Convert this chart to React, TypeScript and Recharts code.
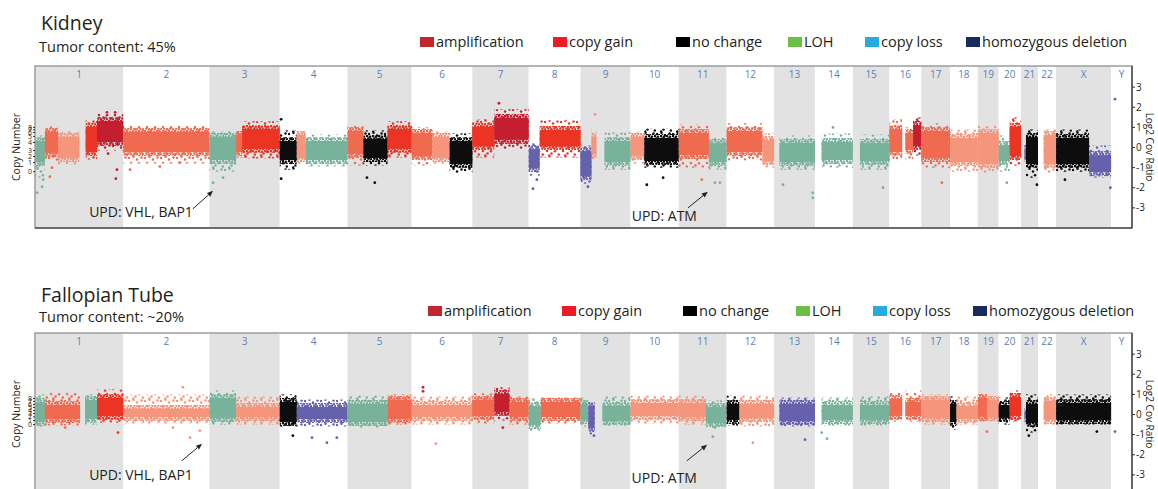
import React from "react";
import { ComposedChart, XAxis, YAxis, ReferenceArea, ReferenceLine, Scatter } from "recharts";

const FONT = "'Open Sans', 'Noto Sans', sans-serif";
const TEXT = "#231f20";

// chromosome sizes (hg19, Mb)
const chromNames = ["1", "2", "3", "4", "5", "6", "7", "8", "9", "10", "11", "12", "13", "14", "15", "16", "17", "18", "19", "20", "21", "22", "X", "Y"];
const chromLengths = [249, 243, 198, 191, 181, 171, 159, 146, 141, 136, 135, 134, 115, 107, 103, 90, 81, 78, 59, 63, 48, 51, 155, 59];

// colours of the point clouds
const stateNames = ["amp", "gain", "gain1", "gain2", "loh", "neutral", "loss"];
const stateColors = ["#c41f2e", "#ec3424", "#f06a50", "#f4957c", "#78b29a", "#0d0d0d", "#6561ad"];

const legendLabels = ["amplification", "copy gain", "no change", "LOH", "copy loss", "homozygous deletion"];
const legendColors = ["#c1272d", "#ed1c24", "#000000", "#6cbe45", "#27aae1", "#1b2a5e"];

const log2Ticks = [-3, -2, -1, 0, 1, 2, 3];
const cnTickLabels = [0, 1, 2, 3, 4, 5, 6, 7, 8];
const kidneyCnTicks = [-1.2, -0.75, -0.45, -0.15, 0.25, 0.55, 0.75, 0.88, 1.0];
const fallopianCnTicks = [-0.5, -0.3, -0.12, 0.05, 0.2, 0.35, 0.5, 0.65, 0.8];

type Seg = [string, number, number, string, number, number, number, number];
// chr, start Mb, end Mb, state, core low, core high, spread low, spread high (log2)
const kidneySegments: Seg[] = [
  ["1", 0, 28, "loh", -0.8, 0.4, -1.5, 0.6],
  ["1", 28, 65, "gain1", -0.35, 0.85, -0.7, 1.05],
  ["1", 65, 125, "gain2", -0.6, 0.6, -0.85, 0.8],
  ["1", 143, 175, "gain", -0.3, 1.1, -0.6, 1.35],
  ["1", 175, 249, "amp", 0.2, 1.4, -0.15, 1.7],
  ["2", 0, 243, "gain1", -0.3, 0.85, -0.8, 1.1],
  ["3", 0, 75, "loh", -0.7, 0.6, -1.2, 0.8],
  ["3", 75, 92, "gain1", -0.3, 0.7, -0.5, 0.8],
  ["3", 92, 198, "gain", -0.15, 1.0, -0.55, 1.3],
  ["4", 0, 48, "neutral", -0.7, 0.4, -1.1, 0.85],
  ["4", 48, 73, "gain2", -0.6, 0.7, -0.8, 0.8],
  ["4", 73, 191, "loh", -0.7, 0.4, -0.95, 0.65],
  ["5", 0, 45, "gain1", -0.4, 0.9, -0.9, 1.1],
  ["5", 45, 113, "neutral", -0.6, 0.5, -0.9, 0.85],
  ["5", 113, 181, "gain", -0.15, 1.0, -0.5, 1.3],
  ["6", 0, 59, "gain1", -0.5, 0.8, -0.9, 1.0],
  ["6", 59, 107, "gain2", -0.6, 0.6, -0.8, 0.8],
  ["6", 107, 171, "neutral", -0.9, 0.4, -1.3, 0.7],
  ["7", 0, 62, "gain", 0, 1.1, -0.5, 1.4],
  ["7", 62, 159, "amp", 0.3, 1.55, -0.1, 1.9],
  ["8", 0, 31, "loss", -1.1, 0, -1.4, 0.2],
  ["8", 31, 146, "gain", 0, 0.95, -0.5, 1.35],
  ["9", 0, 31, "loss", -1.5, -0.1, -1.8, 0.1],
  ["9", 31, 45, "gain2", -0.4, 0.6, -0.6, 0.9],
  ["9", 68, 141, "loh", -0.8, 0.4, -1.1, 0.75],
  ["10", 0, 39, "gain2", -0.5, 0.6, -0.8, 0.8],
  ["10", 39, 136, "neutral", -0.75, 0.55, -1.0, 0.95],
  ["11", 0, 85, "gain1", -0.45, 0.8, -1.0, 1.15],
  ["11", 85, 135, "loh", -0.8, 0.3, -1.1, 0.5],
  ["12", 0, 101, "gain1", -0.3, 0.9, -0.65, 1.2],
  ["12", 101, 134, "gain2", -0.75, 0.45, -1.0, 0.7],
  ["13", 15, 115, "loh", -0.8, 0.3, -1.1, 0.6],
  ["14", 19, 107, "loh", -0.7, 0.35, -1.0, 0.7],
  ["15", 20, 103, "loh", -0.75, 0.3, -1.1, 0.65],
  ["16", 0, 36, "gain1", -0.3, 1.0, -0.7, 1.4],
  ["16", 45, 67, "gain1", -0.2, 0.8, -0.6, 1.0],
  ["16", 67, 90, "amp", 0, 1.2, -0.4, 1.5],
  ["17", 0, 81, "gain1", -0.6, 0.9, -1.0, 1.2],
  ["18", 0, 78, "gain2", -0.8, 0.55, -1.2, 0.9],
  ["19", 0, 59, "gain2", -0.9, 0.8, -1.3, 1.1],
  ["20", 0, 31, "loh", -0.75, 0.2, -1.2, 0.6],
  ["20", 31, 63, "gain", -0.5, 1.1, -0.9, 1.5],
  ["21", 10, 14, "loss", -0.6, 0, -0.8, 0.2],
  ["21", 14, 48, "neutral", -0.9, 0.6, -1.5, 0.9],
  ["22", 16, 51, "gain2", -0.9, 0.7, -1.3, 0.9],
  ["X", 0, 93, "neutral", -0.9, 0.55, -1.2, 0.9],
  ["X", 93, 155, "loss", -1.3, -0.3, -1.5, 0.1],
];

const fallopianSegments: Seg[] = [
  ["1", 0, 28, "loh", -0.45, 0.7, -0.6, 1.0],
  ["1", 28, 127, "gain1", -0.3, 0.55, -0.55, 1.1],
  ["1", 141, 175, "loh", -0.3, 0.8, -0.5, 1.0],
  ["1", 175, 249, "gain", -0.15, 0.9, -0.4, 1.25],
  ["2", 0, 243, "gain2", -0.2, 0.35, -0.45, 1.0],
  ["3", 0, 75, "loh", -0.25, 0.9, -0.5, 1.2],
  ["3", 75, 198, "gain2", -0.2, 0.45, -0.5, 0.9],
  ["4", 0, 48, "neutral", -0.45, 0.7, -0.6, 1.0],
  ["4", 48, 191, "loss", -0.3, 0.45, -0.6, 0.75],
  ["5", 0, 113, "loh", -0.45, 0.6, -0.7, 0.95],
  ["5", 113, 181, "gain1", -0.3, 0.8, -0.5, 1.0],
  ["6", 0, 171, "gain2", -0.2, 0.55, -0.5, 0.9],
  ["7", 0, 62, "gain1", -0.15, 0.8, -0.45, 1.05],
  ["7", 62, 105, "amp", 0.05, 1.1, -0.3, 1.35],
  ["7", 105, 159, "gain1", -0.2, 0.7, -0.5, 0.9],
  ["8", 0, 34, "loh", -0.6, 0.5, -0.8, 0.8],
  ["8", 34, 146, "gain1", -0.2, 0.7, -0.45, 0.85],
  ["9", 0, 22, "loh", -0.35, 0.6, -0.6, 0.85],
  ["9", 22, 40, "loss", -0.75, 0.5, -1.0, 0.6],
  ["9", 62, 141, "loh", -0.4, 0.5, -0.55, 0.9],
  ["10", 0, 136, "gain2", -0.15, 0.65, -0.45, 0.95],
  ["11", 0, 77, "gain2", -0.2, 0.65, -0.5, 0.95],
  ["11", 77, 133, "loh", -0.5, 0.45, -0.7, 0.7],
  ["12", 0, 36, "neutral", -0.35, 0.6, -0.55, 0.95],
  ["12", 36, 134, "gain2", -0.25, 0.6, -0.6, 0.95],
  ["13", 15, 115, "loss", -0.4, 0.6, -0.6, 0.85],
  ["14", 19, 107, "loh", -0.35, 0.55, -0.55, 0.85],
  ["15", 20, 103, "loh", -0.35, 0.55, -0.55, 0.9],
  ["16", 0, 36, "gain1", -0.15, 0.85, -0.35, 1.15],
  ["16", 45, 90, "gain1", -0.15, 0.7, -0.35, 1.2],
  ["17", 0, 81, "gain2", -0.25, 0.8, -0.5, 1.0],
  ["18", 0, 18, "neutral", -0.45, 0.6, -0.75, 0.9],
  ["18", 18, 78, "gain2", -0.3, 0.5, -0.5, 0.9],
  ["19", 0, 26, "gain1", -0.2, 0.9, -0.35, 1.0],
  ["19", 26, 59, "gain2", -0.2, 0.8, -0.35, 0.95],
  ["20", 0, 31, "neutral", -0.25, 0.55, -0.5, 0.85],
  ["20", 31, 63, "gain", -0.15, 0.95, -0.35, 1.2],
  ["21", 10, 14, "loss", -0.3, 0.2, -0.45, 0.3],
  ["21", 14, 48, "neutral", -0.5, 0.6, -0.9, 1.0],
  ["22", 16, 51, "gain2", -0.35, 0.75, -0.5, 1.0],
  ["X", 0, 155, "neutral", -0.35, 0.65, -0.5, 1.0],
];

type Pt = [string, number, number, string]; // chr, Mb, log2, state
const kidneyOutliers: Pt[] = [
  ["1", 6, -2.25, "loh"], ["1", 20, -1.95, "loh"], ["1", 23, -1.6, "loh"],
  ["1", 42, -1.45, "gain1"], ["1", 48, -1.0, "gain1"],
  ["1", 228, -1.55, "amp"], ["1", 231, -1.1, "amp"], ["1", 206, -0.3, "amp"], ["1", 203, 1.75, "amp"], ["1", 226, 1.75, "amp"],
  ["2", 19, -1.1, "gain1"], ["2", 103, -0.95, "gain1"], ["2", 160, -0.75, "gain1"],
  ["3", 10, -1.75, "loh"], ["3", 38, -1.5, "loh"],
  ["4", 4, -1.55, "neutral"], ["4", 4, 1.4, "neutral"],
  ["5", 55, -1.5, "neutral"], ["5", 77, -1.75, "neutral"],
  ["7", 75, 2.2, "amp"],
  ["8", 12, -2.05, "loss"], ["8", 23, -1.6, "loss"],
  ["9", 21, -1.95, "loss"], ["9", 41, 1.65, "gain2"],
  ["10", 46, -1.85, "neutral"], ["10", 92, -1.5, "neutral"],
  ["11", 65, -1.6, "gain1"], ["11", 102, -1.75, "loh"], ["11", 116, -1.75, "loh"],
  ["13", 109, -2.5, "loh"], ["13", 109, -2.25, "loh"], ["13", 25, -1.85, "loh"],
  ["14", 51, 1.0, "loh"],
  ["15", 85, -2.0, "loh"],
  ["17", 58, -1.75, "gain1"],
  ["20", 23, -1.75, "loh"],
  ["21", 45, -1.85, "neutral"],
  ["X", 25, -1.6, "neutral"], ["X", 153, -2.0, "loss"],
  ["Y", 11, 2.4, "loss"],
];

const fallopianOutliers: Pt[] = [
  ["1", 85, -0.65, "gain1"], ["1", 234, -0.9, "gain"],
  ["2", 188, -1.15, "gain2"], ["2", 216, -0.8, "gain2"], ["2", 140, -0.65, "gain2"], ["2", 168, 1.35, "gain2"],
  ["4", 133, -1.4, "loss"], ["4", 161, -1.15, "loss"], ["4", 91, -1.15, "loss"], ["4", 37, -1.05, "neutral"],
  ["6", 68, -1.45, "gain2"], ["6", 32, 1.35, "amp"], ["6", 32, 1.15, "amp"],
  ["7", 86, -0.65, "amp"],
  ["9", 38, -1.05, "loss"],
  ["11", 96, -1.1, "loh"], ["11", 102, -0.65, "loh"],
  ["12", 74, -1.4, "gain2"],
  ["13", 87, -1.25, "loss"],
  ["14", 34, -1.2, "loh"], ["14", 19, -0.9, "loh"],
  ["19", 26, -0.85, "gain1"],
  ["21", 22, -1.05, "neutral"],
  ["X", 115, -0.85, "neutral"],
  ["Y", 11, -0.85, "loss"],
];

// annotation arrows: text, arrow tail [genome Mb, log2], arrow head, text offset (px)
type Note = { text: string; from: [number, number]; to: [number, number]; dx: number; dy: number };
const kidneyNotes: Note[] = [
  { text: "UPD: VHL, BAP1", from: [445, -3.05], to: [502, -2.15], dx: 0, dy: 8 },
  { text: "UPD: ATM", from: [1841, -3.0], to: [1897, -2.2], dx: 9, dy: 13 },
];
const fallopianNotes: Note[] = [
  { text: "UPD: VHL, BAP1", from: [414, -2.3], to: [471, -1.45], dx: 11, dy: 19 },
  { text: "UPD: ATM", from: [1838, -2.3], to: [1895, -1.5], dx: 10, dy: 22 },
];

const chromStarts = chromLengths.map((_, i) => chromLengths.slice(0, i).reduce((a, b) => a + b, 0));
const genomeLength = chromLengths.reduce((a, b) => a + b, 0);
const pos = (chr: string, mb: number) => chromStarts[chromNames.indexOf(chr)] + mb;
const colorOf = (state: string) => stateColors[stateNames.indexOf(state)];

const Y_DOMAIN: [number, number] = [-4, 4.05];

// dot textures for the clouds
const sparseDots = [[1, 2], [5.5, 0.8], [9, 3.6], [13.5, 1.5], [3, 7], [7.5, 9.5], [11, 7.2], [14.8, 10.6], [5.2, 11.6]];
const midDots = [[1, 1], [4, 1.8], [2.3, 3.6], [5.2, 4.4]];

interface PanelProps {
  id: string;
  top: number;
  title: string;
  subtitle: string;
  segments: Seg[];
  outliers: Pt[];
  cnTicks: number[];
  notes: Note[];
  titleY: number;
  subY: number;
  legendY: number;
  legendX: number[];
}

function Panel({ id, top, title, subtitle, segments, outliers, cnTicks, notes, titleY, subY, legendY, legendX }: PanelProps) {
  const points = outliers.map(([chr, mb, v, state]) => ({ x: pos(chr, mb), y: v, fill: colorOf(state) }));

  return (
    <div style={{ position: "absolute", left: 0, top, width: 1158, height: 240 }}>
      <ComposedChart width={1158} height={240} margin={{ top: 66, right: 0, bottom: 12, left: 23 }}>
        <defs>
          {stateNames.map((s, i) => (
            <React.Fragment key={s}>
              <pattern id={`${id}-sparse-${s}`} width={16} height={12} patternUnits="userSpaceOnUse">
                {sparseDots.map(([cx, cy], j) => (
                  <circle key={j} cx={cx} cy={cy} r={1.25} fill={stateColors[i]} />
                ))}
              </pattern>
              <pattern id={`${id}-mid-${s}`} width={6} height={5} patternUnits="userSpaceOnUse">
                {midDots.map(([cx, cy], j) => (
                  <circle key={j} cx={cx} cy={cy} r={1.3} fill={stateColors[i]} />
                ))}
              </pattern>
            </React.Fragment>
          ))}
        </defs>
        <XAxis type="number" dataKey="x" domain={[0, genomeLength]} hide allowDataOverflow />
        <YAxis
          yAxisId="l"
          type="number"
          domain={Y_DOMAIN}
          ticks={cnTicks}
          interval={0}
          width={12}
          axisLine={false}
          tickSize={2}
          tickMargin={1}
          tickLine={{ stroke: "#333" }}
          tick={{ fontSize: 7, fill: TEXT, fontFamily: FONT }}
          tickFormatter={(_v: number, i: number) => String(cnTickLabels[i])}
          allowDataOverflow
        />
        <YAxis
          yAxisId="r"
          orientation="right"
          type="number"
          dataKey="y"
          domain={Y_DOMAIN}
          ticks={log2Ticks}
          interval={0}
          width={26}
          axisLine={{ stroke: "#333", strokeWidth: 1.2 }}
          tickLine={{ stroke: "#333" }}
          tickSize={3}
          tickMargin={1}
          tick={{ fontSize: 10, fill: TEXT, fontFamily: FONT }}
          allowDataOverflow
        />
        {chromNames.map((name, i) => (
          <ReferenceArea
            key={`band-${name}`}
            yAxisId="r"
            x1={chromStarts[i]}
            x2={chromStarts[i] + chromLengths[i]}
            y1={Y_DOMAIN[0]}
            y2={Y_DOMAIN[1]}
            fill={i % 2 === 0 ? "#e2e2e2" : "#ffffff"}
            fillOpacity={1}
            stroke="none"
            label={{ value: name, position: "insideTop", offset: 5, fill: "#5b80b9", fontSize: 10, fontFamily: FONT }}
          />
        ))}
        {segments.map(([chr, s, e, state, cLo, cHi, lo, hi], k) => (
          <ReferenceArea
            key={`halo-${k}`}
            yAxisId="r"
            x1={pos(chr, s)}
            x2={pos(chr, e)}
            y1={lo}
            y2={hi}
            fill={`url(#${id}-sparse-${state})`}
            fillOpacity={1}
            stroke="none"
          />
        ))}
        {segments.map(([chr, s, e, state, cLo, cHi], k) => (
          <ReferenceArea
            key={`mid-${k}`}
            yAxisId="r"
            x1={pos(chr, s)}
            x2={pos(chr, e)}
            y1={cLo - 0.12}
            y2={cHi + 0.12}
            fill={`url(#${id}-mid-${state})`}
            fillOpacity={1}
            stroke="none"
          />
        ))}
        {segments.map(([chr, s, e, state, cLo, cHi], k) => (
          <ReferenceArea
            key={`core-${k}`}
            yAxisId="r"
            x1={pos(chr, s)}
            x2={pos(chr, e)}
            y1={cLo + 0.08}
            y2={cHi - 0.08}
            fill={colorOf(state)}
            fillOpacity={1}
            stroke="none"
          />
        ))}
        <ReferenceArea
          yAxisId="r"
          x1={0}
          x2={genomeLength}
          y1={Y_DOMAIN[0]}
          y2={Y_DOMAIN[1]}
          fill="none"
          stroke="#9d9d9d"
          strokeWidth={1.5}
        />
        <ReferenceLine yAxisId="r" y={Y_DOMAIN[0]} stroke="#6b6b6b" strokeWidth={2} />
        {notes.map((n) => (
          <ReferenceLine
            key={n.text}
            yAxisId="r"
            segment={[{ x: n.from[0], y: n.from[1] }, { x: n.to[0], y: n.to[1] }]}
            shape={(p: any) => {
              const ang = Math.atan2(p.y2 - p.y1, p.x2 - p.x1);
              const L = 6;
              const W = 2.5;
              const bx = p.x2 - L * Math.cos(ang);
              const by = p.y2 - L * Math.sin(ang);
              const px = -Math.sin(ang) * W;
              const py = Math.cos(ang) * W;
              return (
                <g>
                  <line x1={p.x1} y1={p.y1} x2={bx} y2={by} stroke="#222" strokeWidth={1} />
                  <polygon points={`${p.x2},${p.y2} ${bx + px},${by + py} ${bx - px},${by - py}`} fill="#222" />
                  <text x={p.x1 + n.dx} y={p.y1 + n.dy} textAnchor="end" fontSize={14} fill={TEXT} fontFamily={FONT}>
                    {n.text}
                  </text>
                </g>
              );
            }}
          />
        ))}
        <Scatter
          yAxisId="r"
          data={points}
          isAnimationActive={false}
          shape={(p: any) => <circle cx={p.cx} cy={p.cy} r={1.4} fill={p.payload.fill} />}
        />
      </ComposedChart>
      <svg
        width={1158}
        height={240}
        style={{ position: "absolute", left: 0, top: 0, pointerEvents: "none" }}
        fontFamily={FONT}
      >
        <text x={41} y={titleY} fontSize={19.5} fill={TEXT}>{title}</text>
        <text x={39} y={subY} fontSize={14.5} fill={TEXT}>{subtitle}</text>
        {legendLabels.map((label, i) => (
          <g key={label}>
            <rect x={legendX[i]} y={legendY - 10} width={14} height={10} fill={legendColors[i]} />
            <text x={legendX[i] + 16} y={legendY} fontSize={14.5} fill={TEXT}>{label}</text>
          </g>
        ))}
        <text x={20} y={147} fontSize={10.5} fill={TEXT} textAnchor="middle" transform="rotate(-90 20 147)">
          Copy Number
        </text>
        <text x={1146} y={147} fontSize={10} fill={TEXT} textAnchor="middle" transform="rotate(90 1146 147)">
          Log2 Cov Ratio
        </text>
      </svg>
    </div>
  );
}

export default function App() {
  return (
    <div
      style={{ position: "absolute", left: 0, top: 0, width: 1158, height: 489, overflow: "hidden", background: "#fff", fontFamily: FONT }}
    >
      <Panel
        id="kid"
        top={0}
        title="Kidney"
        subtitle="Tumor content: 45%"
        segments={kidneySegments}
        outliers={kidneyOutliers}
        cnTicks={kidneyCnTicks}
        notes={kidneyNotes}
        titleY={30}
        subY={52}
        legendY={47}
        legendX={[420, 553, 676, 788, 865, 966]}
      />
      <Panel
        id="fal"
        top={267}
        title="Fallopian Tube"
        subtitle="Tumor content: ~20%"
        segments={fallopianSegments}
        outliers={fallopianOutliers}
        cnTicks={fallopianCnTicks}
        notes={fallopianNotes}
        titleY={35}
        subY={55}
        legendY={49}
        legendX={[428, 562, 683, 796, 873, 973]}
      />
    </div>
  );
}
